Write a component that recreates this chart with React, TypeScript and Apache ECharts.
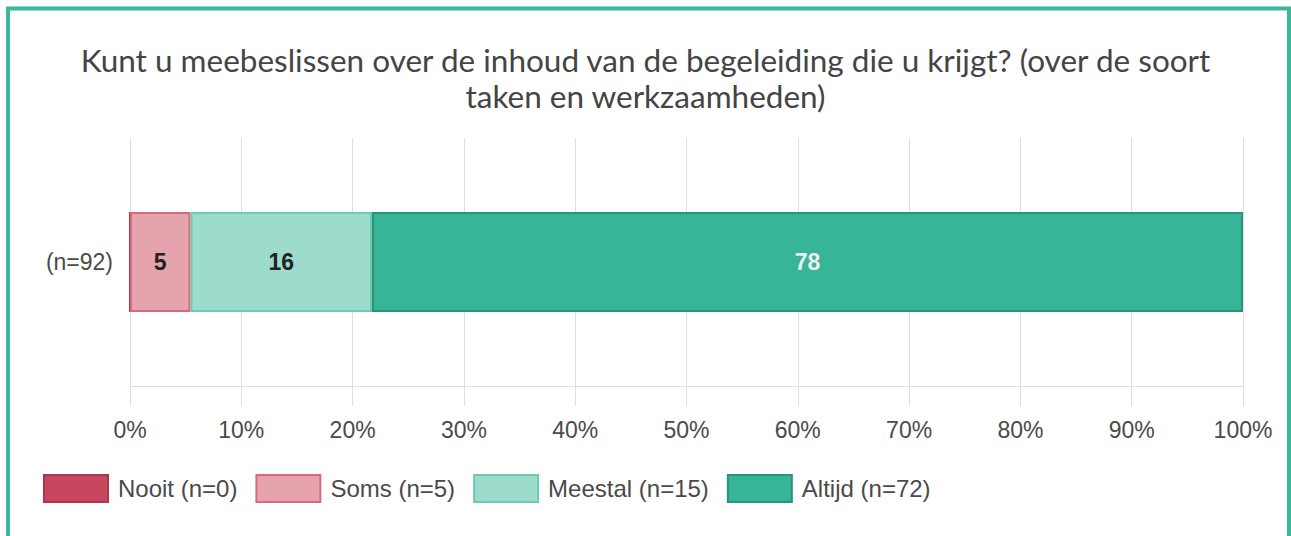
import React, { useEffect, useRef } from "react";
import * as echarts from "echarts";

const TITLE = "Kunt u meebeslissen over de inhoud van de begeleiding die u krijgt? (over de soort\ntaken en werkzaamheden)";
const CATEGORIES = ["(n=92)"];
const TOTAL = 92;
const SERIES_NAMES = ["Nooit (n=0)", "Soms (n=5)", "Meestal (n=15)", "Altijd (n=72)"];
const COUNTS = [0, 5, 15, 72];
const FILLS = ["#c8475f", "#e5a3ae", "#9ddccd", "#37b598"];
const BORDERS = ["#a9374d", "#d96a7e", "#6ccbb3", "#2b9379"];
const LABEL_COLORS = ["#222", "#222", "#222", "#eeeeee"];

export default function App() {
  const ref = useRef<HTMLDivElement>(null);
  useEffect(() => {
    if (!ref.current) return;
    const chart = echarts.init(ref.current, undefined, { renderer: "svg" });
    const series = SERIES_NAMES.map((name, i) => ({
      name,
      type: "bar",
      stack: "total",
      barWidth: 100,
      data: [(COUNTS[i] / TOTAL) * 100],
      itemStyle: { color: FILLS[i], borderColor: BORDERS[i], borderWidth: 2 },
      label: {
        show: true,
        position: "inside",
        fontFamily: "Liberation Sans",
        fontWeight: "bold",
        fontSize: 23,
        color: LABEL_COLORS[i],
        formatter: (p: any) => (p.value > 0 ? String(Math.round(p.value)) : ""),
      },
    }));
    chart.setOption({
      animation: false,
      title: {
        text: TITLE,
        left: "center",
        top: 37,
        textStyle: {
          fontFamily: "Lato",
          fontWeight: "normal",
          fontSize: 31.5,
          lineHeight: 36,
          color: "#444",
        },
      },
      graphic: [
        {
          type: "rect",
          shape: { x: 8, y: 8.5, width: 1281, height: 700 },
          style: { fill: "none", stroke: "#3bb89a", lineWidth: 4 },
          silent: true,
        },
      ],
      legend: {
        left: 43,
        top: 474,
        padding: 0,
        icon: "rect",
        itemWidth: 64,
        itemHeight: 27,
        itemGap: 18,
        textStyle: {
          fontFamily: "Liberation Sans",
          fontSize: 24,
          color: "#4a4a4a",
          padding: [0, 0, 0, 5],
        },
        data: SERIES_NAMES,
      },
      grid: { left: 130, right: 48, top: 138, bottom: 150 },
      xAxis: {
        type: "value",
        min: 0,
        max: 100,
        interval: 10,
        axisLine: { show: true, lineStyle: { color: "#e0e0e0", width: 1 } },
        axisTick: { show: true, length: 20, lineStyle: { color: "#e0e0e0" } },
        splitLine: { show: true, lineStyle: { color: "#e0e0e0" } },
        axisLabel: {
          margin: 32,
          formatter: "{value}%",
          fontFamily: "Liberation Sans",
          fontSize: 23,
          color: "#4a4a4a",
        },
      },
      yAxis: {
        type: "category",
        data: CATEGORIES,
        axisLine: { show: false },
        axisTick: { show: false },
        axisLabel: {
          margin: 17,
          fontFamily: "Liberation Sans",
          fontSize: 23,
          color: "#4a4a4a",
        },
      },
      series,
    });
    return () => chart.dispose();
  }, []);
  return (
    <div
      ref={ref}
      style={{ position: "absolute", left: 0, top: 0, width: 1291, height: 536, background: "#fff" }}
    />
  );
}
